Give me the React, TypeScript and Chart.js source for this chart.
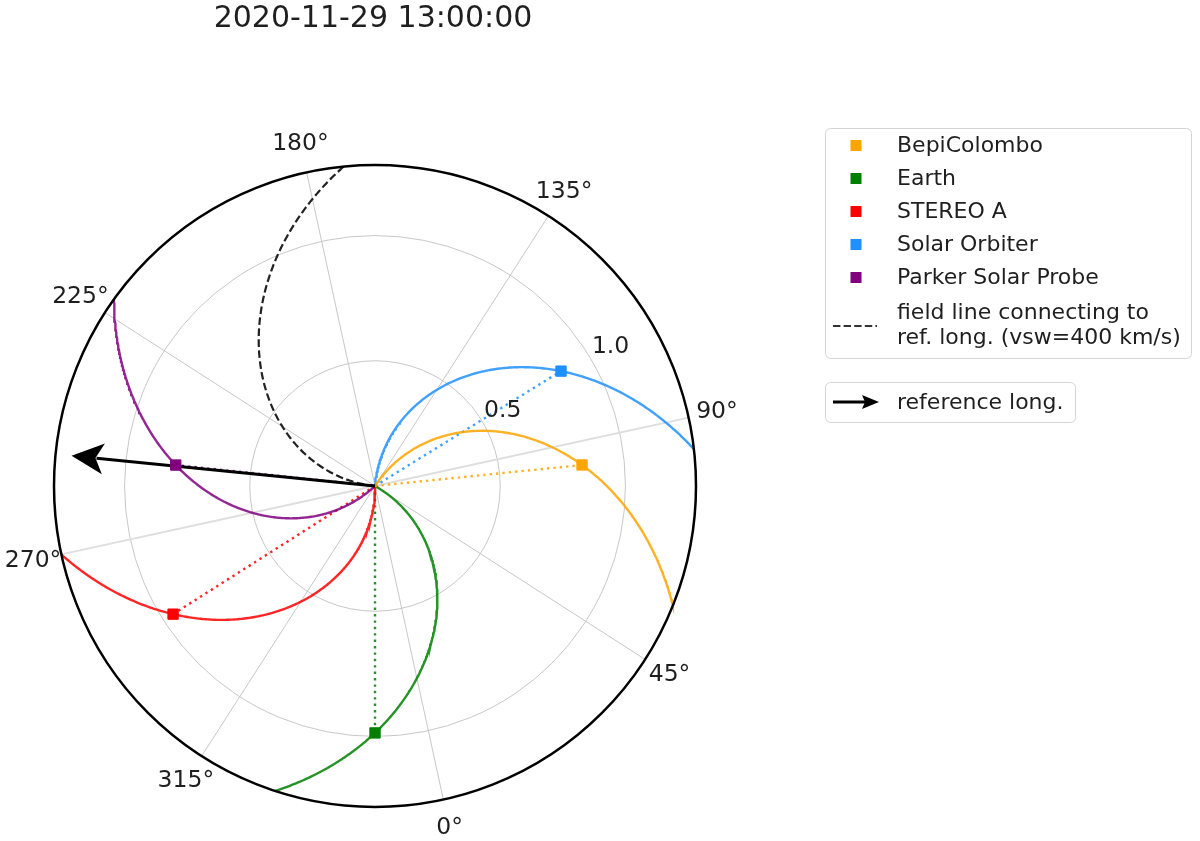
import React, { useEffect, useRef } from 'react';
import { Chart, registerables } from 'chart.js';

Chart.register(...registerables);

// ---------------- data ----------------
const TITLE = '2020-11-29 13:00:00';
const bodyNames = ['BepiColombo', 'Earth', 'STEREO A', 'Solar Orbiter', 'Parker Solar Probe'];
const bodyLongitudes = [83.5, 347.7, 290.1, 109.4, 251.7]; // Carrington longitude, deg
const bodyDistances = [0.831, 0.986, 0.955, 0.873, 0.8]; // AU
const bodyVsw = [400, 400, 400, 400, 400]; // km/s
const bodyColors = ['#FFA500', '#008000', '#FF0000', '#1E90FF', '#800080'];
const referenceLongitude = 252; // deg
const referenceVsw = 400; // km/s
const angleTicks = [0, 45, 90, 135, 180, 225, 270, 315];
const radialTicks = [0.5, 1.0];
const radialTickLabels = ['0.5', '1.0'];

// ---------------- derived ----------------
const OMEGA = (2 * Math.PI) / (25.38 * 24 * 3600); // rad/s
const AU_KM = 1.496e8;
const R_MAX = 1.3 * Math.max(...bodyDistances);
const ARROW_LEN = 0.95 * R_MAX;
const earthLong = bodyLongitudes[bodyNames.indexOf('Earth')];
const THETA_OFFSET = -90 - earthLong; // Earth at the bottom
const N = 240;

const rad = (d: number) => (d * Math.PI) / 180;
const toXY = (r: number, lon: number) => {
  const a = rad(lon + THETA_OFFSET);
  return { x: r * Math.cos(a), y: r * Math.sin(a) };
};
const parkerShift = (dr: number, vsw: number) => ((OMEGA * dr * AU_KM) / vsw) * 180 / Math.PI;

const spiral = (lon: number, dist: number, vsw: number) => {
  const pts: { x: number; y: number }[] = [];
  for (let k = 0; k <= N; k++) {
    const r = (R_MAX * k) / N;
    pts.push(toXY(r, lon + parkerShift(dist - r, vsw)));
  }
  return pts;
};

const hexA = (hex: string, a: number) => {
  const n = parseInt(hex.slice(1), 16);
  return `rgba(${(n >> 16) & 255},${(n >> 8) & 255},${n & 255},${a})`;
};

const FONT = '"DejaVu Sans", sans-serif';
const TEXT = '#1f1f1f';

const polarPlugin = {
  id: 'polarDecor',
  beforeDatasetsDraw(chart: any) {
    const { ctx, scales } = chart;
    const xs = scales.x, ys = scales.y;
    const cx = xs.getPixelForValue(0), cy = ys.getPixelForValue(0);
    const k = xs.getPixelForValue(1) - cx;
    ctx.save();
    ctx.fillStyle = '#ffffff';
    ctx.fillRect(0, 0, chart.width, chart.height);
    ctx.strokeStyle = '#c8c8c8';
    ctx.lineWidth = 1;
    radialTicks.forEach((r) => {
      ctx.beginPath();
      ctx.arc(cx, cy, r * k, 0, Math.PI * 2);
      ctx.stroke();
    });
    angleTicks.forEach((a) => {
      const p = toXY(R_MAX, a);
      const horiz = a === 90 || a === 270;
      ctx.strokeStyle = horiz ? '#dedede' : '#c8c8c8';
      ctx.lineWidth = horiz ? 2 : 1;
      ctx.beginPath();
      ctx.moveTo(cx, cy);
      ctx.lineTo(xs.getPixelForValue(p.x), ys.getPixelForValue(p.y));
      ctx.stroke();
    });
    ctx.restore();
  },
  afterDatasetsDraw(chart: any) {
    const { ctx, scales } = chart;
    const xs = scales.x, ys = scales.y;
    const cx = xs.getPixelForValue(0), cy = ys.getPixelForValue(0);
    const k = xs.getPixelForValue(1) - cx;
    ctx.save();
    // outer circle
    ctx.strokeStyle = '#000';
    ctx.lineWidth = 2.5;
    ctx.beginPath();
    ctx.arc(cx, cy, R_MAX * k, 0, Math.PI * 2);
    ctx.stroke();

    // arrow head
    const tip = toXY(ARROW_LEN, referenceLongitude);
    const tx = xs.getPixelForValue(tip.x), ty = ys.getPixelForValue(tip.y);
    const len = Math.hypot(tx - cx, ty - cy);
    const ux = (tx - cx) / len, uy = (ty - cy) / len;
    const nx = -uy, ny = ux;
    const hl = 32, hw = 15.5;
    ctx.fillStyle = '#000';
    ctx.beginPath();
    ctx.moveTo(tx, ty);
    ctx.lineTo(tx - hl * ux + hw * nx, ty - hl * uy + hw * ny);
    ctx.lineTo(tx - 24 * ux, ty - 24 * uy);
    ctx.lineTo(tx - hl * ux - hw * nx, ty - hl * uy - hw * ny);
    ctx.closePath();
    ctx.fill();

    // angle labels
    ctx.fillStyle = TEXT;
    ctx.font = `23.5px ${FONT}`;
    ctx.textAlign = 'center';
    ctx.textBaseline = 'middle';
    angleTicks.forEach((a) => {
      const ang = rad(a + THETA_OFFSET);
      const R = 350;
      ctx.fillText(`${a}°`, cx + R * Math.cos(ang), cy - R * Math.sin(ang));
    });
    // radial labels
    const rAng = rad(30.5);
    radialTicks.forEach((r, i) => {
      const R = r * k + 23;
      ctx.fillText(radialTickLabels[i], cx + R * Math.cos(rAng), cy - R * Math.sin(rAng));
    });

    // title
    ctx.font = `30px ${FONT}`;
    ctx.fillText(TITLE, 373, 19);

    // legend 1
    const rr = (x: number, y: number, w: number, h: number) => {
      ctx.beginPath();
      ctx.roundRect(x, y, w, h, 5);
      ctx.fillStyle = 'rgba(255,255,255,0.85)';
      ctx.fill();
      ctx.strokeStyle = '#d4d4d4';
      ctx.lineWidth = 1;
      ctx.stroke();
    };
    rr(825.5, 128.5, 366, 230);
    ctx.font = `22px ${FONT}`;
    ctx.textAlign = 'left';
    bodyNames.forEach((name, i) => {
      const y = 146 + 33 * i;
      ctx.fillStyle = bodyColors[i];
      ctx.fillRect(850.5, y - 6, 11, 11);
      ctx.fillStyle = TEXT;
      ctx.fillText(name, 897, y);
    });
    ctx.strokeStyle = '#333';
    ctx.lineWidth = 2;
    ctx.setLineDash([7.4, 3.2]);
    ctx.beginPath();
    ctx.moveTo(833, 326);
    ctx.lineTo(877, 326);
    ctx.stroke();
    ctx.setLineDash([]);
    ctx.fillStyle = TEXT;
    ctx.fillText('field line connecting to', 897, 313);
    ctx.fillText(`ref. long. (vsw=${referenceVsw} km/s)`, 897, 338);

    // legend 2
    rr(825.5, 382.5, 250, 40);
    ctx.strokeStyle = '#000';
    ctx.lineWidth = 3;
    ctx.beginPath();
    ctx.moveTo(833, 402);
    ctx.lineTo(866, 402);
    ctx.stroke();
    ctx.fillStyle = '#000';
    ctx.beginPath();
    ctx.moveTo(879, 402);
    ctx.lineTo(862, 395);
    ctx.lineTo(865, 402);
    ctx.lineTo(862, 409);
    ctx.closePath();
    ctx.fill();
    ctx.fillStyle = TEXT;
    ctx.fillText('reference long.', 897, 403);
    ctx.restore();
  },
};

export default function App() {
  const ref = useRef<HTMLCanvasElement>(null);
  useEffect(() => {
    document.body.style.margin = '0';
    const canvas = ref.current!;
    const datasets: any[] = [];
    // markers (top)
    bodyNames.forEach((name, i) => {
      datasets.push({
        label: name,
        data: [toXY(bodyDistances[i], bodyLongitudes[i])],
        pointStyle: 'rect',
        pointRadius: 7.3,
        backgroundColor: bodyColors[i],
        borderColor: bodyColors[i],
        borderWidth: 1,
        showLine: false,
        order: 0,
        clip: false,
      });
    });
    // reference arrow shaft
    datasets.push({
      label: 'arrow',
      data: [toXY(0, referenceLongitude), toXY(ARROW_LEN - 0.1, referenceLongitude)],
      showLine: true,
      borderColor: '#000',
      borderWidth: 3,
      pointRadius: 0,
      order: 1,
      clip: false,
    });
    // spirals
    bodyNames.forEach((name, i) => {
      datasets.push({
        label: name + ' field line',
        data: spiral(bodyLongitudes[i], bodyDistances[i], bodyVsw[i]),
        showLine: true,
        borderColor: hexA(bodyColors[i], 0.85),
        borderWidth: 2.4,
        pointRadius: 0,
        order: 2,
        clip: false,
      });
      datasets.push({
        label: name + ' radial',
        data: [toXY(0, bodyLongitudes[i]), toXY(bodyDistances[i], bodyLongitudes[i])],
        showLine: true,
        borderColor: hexA(bodyColors[i], 0.85),
        borderWidth: 2.4,
        borderDash: [2.4, 4],
        pointRadius: 0,
        order: 3,
        clip: false,
      });
    });
    // reference field line
    const refPts: { x: number; y: number }[] = [];
    for (let k = 0; k <= N; k++) {
      const r = (R_MAX * k) / N;
      refPts.push(toXY(r, referenceLongitude - parkerShift(r, referenceVsw)));
    }
    datasets.push({
      label: 'reference field line',
      data: refPts,
      showLine: true,
      borderColor: '#222',
      borderWidth: 2.2,
      borderDash: [7.6, 3.4],
      pointRadius: 0,
      order: 2,
      clip: false,
    });

    const chart = new Chart(canvas, {
      type: 'scatter',
      data: { datasets },
      options: {
        animation: false,
        responsive: false,
        devicePixelRatio: 1,
        events: [],
        layout: { padding: { left: 54, right: 504, top: 165, bottom: 34 } },
        scales: {
          x: { type: 'linear', min: -R_MAX, max: R_MAX, display: false },
          y: { type: 'linear', min: -R_MAX, max: R_MAX, display: false },
        },
        plugins: { legend: { display: false }, tooltip: { enabled: false }, title: { display: false } },
        elements: { line: { tension: 0 } },
      },
      plugins: [polarPlugin],
    });
    return () => chart.destroy();
  }, []);
  return (
    <div style={{ width: 1200, height: 841, position: 'relative', background: '#fff' }}>
      <canvas ref={ref} width={1200} height={841} style={{ display: 'block', width: 1200, height: 841 }} />
    </div>
  );
}
